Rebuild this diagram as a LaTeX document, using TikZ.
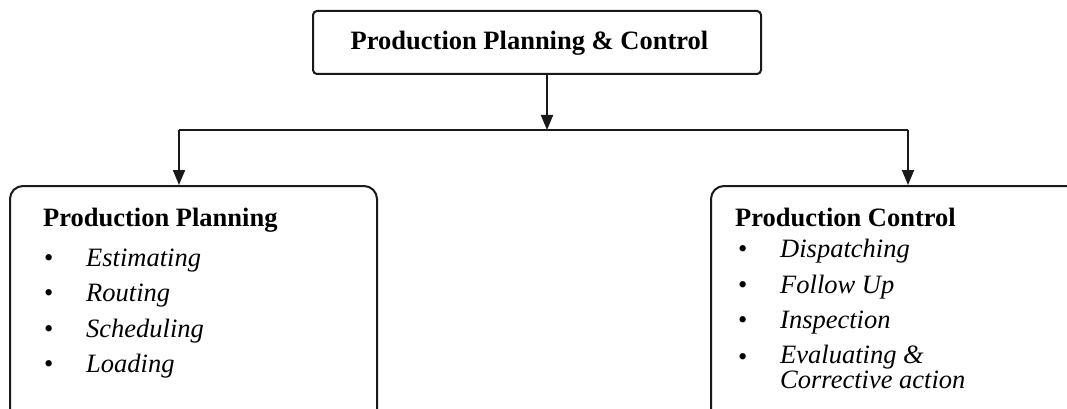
\documentclass[tikz,border=0pt]{standalone}
\usepackage{fontspec}
\setmainfont{Liberation Serif}
\usetikzlibrary{arrows.meta}
\begin{document}
\begin{tikzpicture}[x=1pt,y=-1pt,
  boxline/.style={draw=black!90, line width=2pt},
  topbox/.style={boxline, rounded corners=4pt, inner sep=0pt},
  bigbox/.style={boxline, rounded corners=13pt, inner sep=0pt},
  arr/.style={line width=2pt, draw=black!90, -{Triangle[length=15pt,width=12pt]}},
  plainline/.style={line width=2pt, draw=black!90},
  txt/.style={inner sep=0pt, anchor=base west, font=\fontsize{26.5}{26.5}\selectfont},
  head/.style={txt, font=\fontsize{26.5}{26.5}\selectfont\bfseries},
  item/.style={txt, font=\fontsize{26.5}{23}\selectfont\itshape},
  bul/.style={txt}
]
\useasboundingbox (0,0) rectangle (1067,409);
\clip (0,0) rectangle (1067,409);
% top box
\node[topbox, minimum width=448pt, minimum height=63pt] (top) at (537,42.5) {};
\node[head, anchor=base] (toptext) at (529.5,49.5) {Production Planning \& Control};
% lower boxes
\node[bigbox, minimum width=367pt, minimum height=240pt] (left) at (193.5,306) {};
\node[bigbox, minimum width=372pt, minimum height=240pt] (right) at (897,306) {};
% connectors
\coordinate (j) at (547,130);
\coordinate (lb) at (179,130);
\coordinate (rb) at (908,130);
\draw[arr] (top.south -| j) -- (j);
\draw[plainline] (lb) -- (rb);
\draw[arr] (lb) -- (lb |- left.north);
\draw[arr] (rb) -- (rb |- right.north);
% left content
\node[head] (lh) at (43,226) {Production Planning};
\node[bul] (lb1) at (44,266) {•};
\node[item] (li1) at (86,266) {Estimating};
\node[bul] (lb2) at (44,301) {•};
\node[item] (li2) at (86,301) {Routing};
\node[bul] (lb3) at (44,337) {•};
\node[item] (li3) at (86,337) {Scheduling};
\node[bul] (lb4) at (44,372) {•};
\node[item] (li4) at (86,372) {Loading};
% right content
\node[head] (rh) at (735,226) {Production Control};
\node[bul] (rb1) at (738,257) {•};
\node[item] (ri1) at (780,257) {Dispatching};
\node[bul] (rb2) at (738,293) {•};
\node[item] (ri2) at (780,293) {Follow Up};
\node[bul] (rb3) at (738,328) {•};
\node[item] (ri3) at (780,328) {Inspection};
\node[bul] (rb4) at (738,365) {•};
\node[item, align=left] (ri4) at (780,388) {Evaluating \&\\Corrective action};
\end{tikzpicture}
\end{document}
